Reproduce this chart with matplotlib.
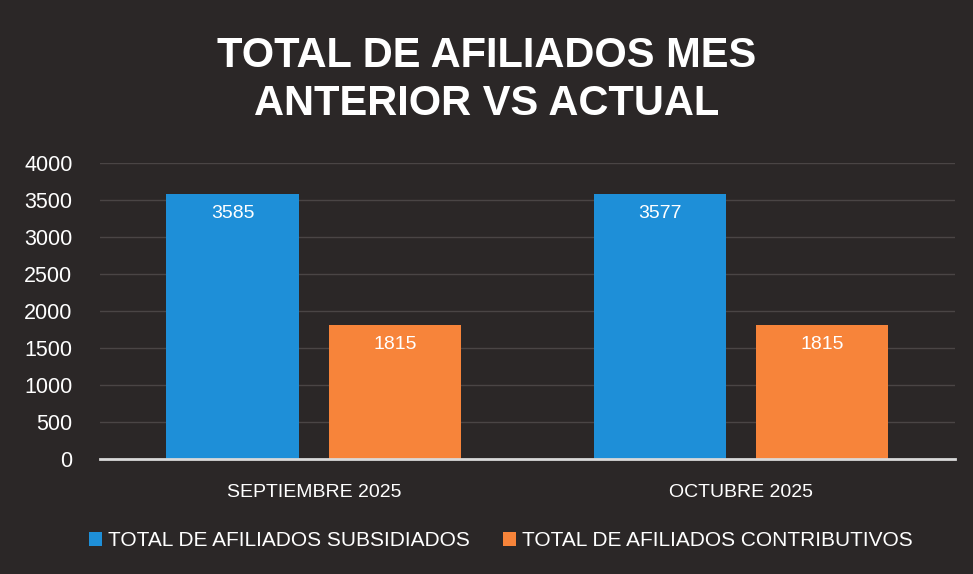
import numpy as np
import matplotlib
matplotlib.use("Agg")
import matplotlib.pyplot as plt

# ----------------------
# DATA
# ----------------------

categories = ["SEPTIEMBRE 2025", "OCTUBRE 2025"]
series_names = ["TOTAL DE AFILIADOS SUBSIDIADOS", "TOTAL DE AFILIADOS CONTRIBUTIVOS"]
subsidiados = [3585, 3577]
contributivos = [1815, 1815]
y_ticks = [0, 500, 1000, 1500, 2000, 2500, 3000, 3500, 4000]

BG = "#2b2727"
BLUE = "#1e8fd8"
ORANGE = "#f7843a"

plt.rcParams["font.family"] = ["Liberation Sans", "DejaVu Sans"]

fig = plt.figure(figsize=(9.73, 5.74), dpi=100, facecolor=BG)
ax = fig.add_axes([0.103, 0.2, 0.878, 0.516], facecolor=BG)

x = np.arange(len(categories))
width = 0.31
offset = 0.19

b1 = ax.bar(x - offset, subsidiados, width, color=BLUE, label=series_names[0], zorder=3)
b2 = ax.bar(x + offset, contributivos, width, color=ORANGE, label=series_names[1], zorder=3)

for bars in (b1, b2):
    for rect in bars:
        h = rect.get_height()
        ax.text(rect.get_x() + rect.get_width() / 2, h - 150, f"{h:.0f}",
                ha="center", va="top", color="white", fontsize=14, zorder=4)

ax.set_xlim(-0.5, 1.5)
ax.set_ylim(0, 4000)
ax.set_yticks(y_ticks)
ax.set_xticks(x)
ax.set_xticklabels(categories)
ax.tick_params(axis="y", colors="white", labelsize=15.5, length=0, pad=20)
ax.tick_params(axis="x", colors="white", labelsize=14, length=0, pad=18)

ax.grid(axis="y", color="#4a4545", linewidth=1, zorder=0)
for s in ["top", "right", "left"]:
    ax.spines[s].set_visible(False)
ax.spines["bottom"].set_color("#d9d9d9")
ax.spines["bottom"].set_linewidth(2)
ax.spines["bottom"].set_zorder(5)

fig.text(0.5, 0.86, "TOTAL DE AFILIADOS MES\nANTERIOR VS ACTUAL",
         ha="center", va="center", color="white", fontsize=30,
         fontweight="bold", linespacing=1.25)

leg = fig.legend(handles=[b1, b2], loc="center", bbox_to_anchor=(0.515, 0.058),
                 ncol=2, frameon=False, fontsize=15, handlelength=0.6,
                 handleheight=0.7, handletextpad=0.3, columnspacing=1.6)
for t in leg.get_texts():
    t.set_color("white")

fig.savefig("out.png", dpi=100, facecolor=BG)
